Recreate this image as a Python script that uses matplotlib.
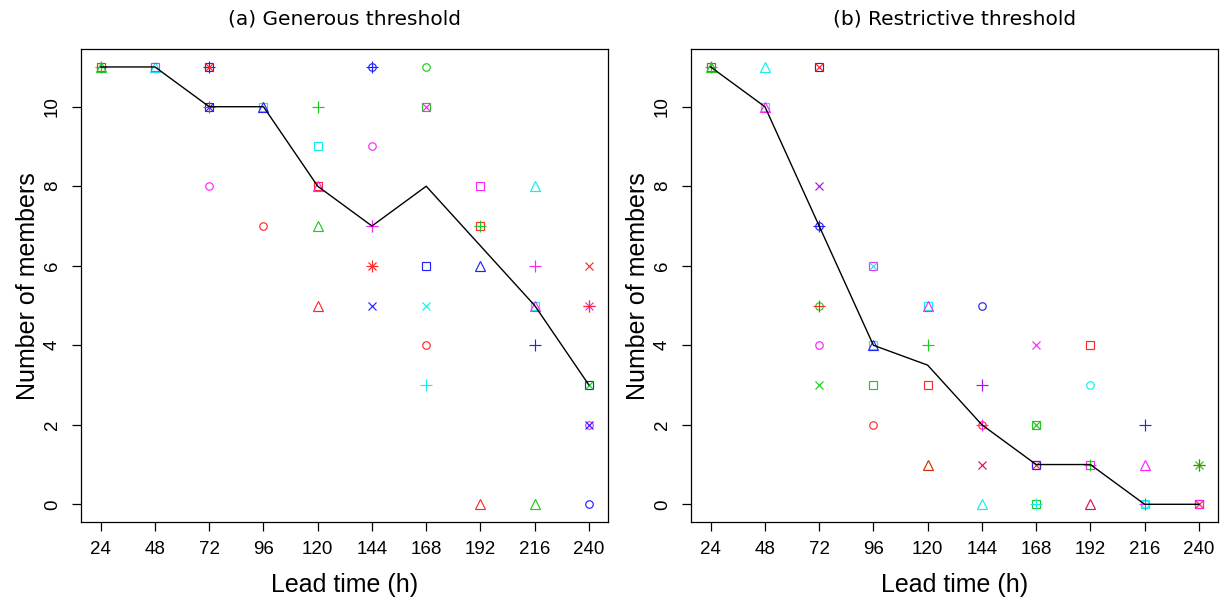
import matplotlib
matplotlib.use("Agg")
import matplotlib.pyplot as plt

# lead times (h) shared by both panels
lead_times = [24, 48, 72, 96, 120, 144, 168, 192, 216, 240]

# ensemble summary line
a_line = [11, 11, 10, 10, 8, 7, 8, 6.5, 5, 3]
b_line = [11, 10, 7, 4, 3.5, 2, 1, 1, 0, 0]

# (a) Generous threshold - individual members
a_lead = [24, 24, 24, 48, 48,
          72, 72, 72, 72, 72,
          96, 96, 96,
          120, 120, 120, 120, 120, 120,
          144, 144, 144, 144, 144, 144,
          168, 168, 168, 168, 168, 168, 168,
          192, 192, 192, 192, 192,
          216, 216, 216, 216, 216, 216,
          240, 240, 240, 240, 240, 240, 240, 240]
a_value = [11, 11, 11, 11, 11,
           11, 11, 10, 10, 8,
           10, 10, 7,
           10, 9, 8, 8, 7, 5,
           11, 9, 7, 7, 6, 5,
           11, 10, 10, 6, 5, 4, 3,
           8, 7, 7, 6, 0,
           8, 6, 5, 5, 4, 0,
           6, 5, 5, 3, 3, 2, 2, 0]
a_symbol = ["sq", "tr", "pl", "tr", "sq",
            "sp", "x", "sx", "pl", "ci",
            "sq", "tr", "ci",
            "pl", "sq", "sq", "tr", "tr", "tr",
            "cp", "ci", "pl", "pl", "as", "x",
            "ci", "sq", "x", "sq", "x", "ci", "pl",
            "sq", "sq", "pl", "tr", "tr",
            "tr", "pl", "sq", "tr", "pl", "tr",
            "x", "as", "pl", "sq", "x", "ci", "x", "ci"]
a_color = ["red", "green", "green", "cyan", "magenta",
           "blue", "red", "blue", "red", "magenta",
           "cyan", "blue", "red",
           "green", "cyan", "red", "magenta", "green", "red",
           "blue", "magenta", "cyan", "magenta", "red", "blue",
           "green", "green", "magenta", "blue", "cyan", "red", "cyan",
           "magenta", "red", "green", "blue", "red",
           "cyan", "magenta", "cyan", "magenta", "blue", "green",
           "red", "magenta", "red", "blue", "green", "magenta", "blue", "blue"]

# (b) Restrictive threshold - individual members
b_lead = [24, 24, 24, 48, 48, 48,
          72, 72, 72, 72, 72, 72, 72, 72,
          96, 96, 96, 96, 96, 96,
          120, 120, 120, 120, 120,
          144, 144, 144, 144, 144, 144,
          168, 168, 168, 168, 168, 168, 168,
          192, 192, 192, 192, 192,
          216, 216, 216, 216, 216,
          240, 240, 240, 240, 240]
b_value = [11, 11, 11, 11, 10, 10,
           11, 11, 8, 7, 5, 5, 4, 3,
           6, 6, 4, 4, 3, 2,
           5, 5, 4, 3, 1,
           5, 3, 2, 2, 1, 0,
           4, 2, 1, 1, 1, 0, 0,
           4, 3, 1, 1, 0,
           2, 1, 0, 0, 0,
           1, 1, 0, 0, 0]
b_symbol = ["sq", "tr", "pl", "tr", "sq", "tr",
            "sq", "x", "x", "cp", "ci", "pl", "ci", "x",
            "sq", "x", "sq", "tr", "sq", "ci",
            "sq", "tr", "pl", "sq", "tr",
            "ci", "pl", "ci", "pl", "x", "tr",
            "x", "sx", "sq", "sq", "x", "sq", "pl",
            "sq", "ci", "sq", "pl", "tr",
            "pl", "tr", "sq", "ci", "pl",
            "as", "pl", "sq", "sq", "x"]
b_color = ["red", "green", "green", "cyan", "cyan", "magenta",
           "blue", "red", "purple", "blue", "green", "red", "magenta", "green",
           "magenta", "cyan", "cyan", "blue", "green", "red",
           "cyan", "magenta", "green", "red", "brown",
           "blue", "purple", "red", "magenta", "crimson", "cyan",
           "magenta", "green", "magenta", "blue", "red", "green", "cyan",
           "red", "cyan", "magenta", "green", "crimson",
           "blue", "magenta", "cyan", "cyan", "magenta",
           "green", "red", "purple", "magenta", "red"]

palette = {"red": "#FF2A2A", "green": "#1DCC1D", "blue": "#2222FF",
           "cyan": "#11EEEE", "magenta": "#FF22FF", "purple": "#B010E8",
           "crimson": "#E0104A", "brown": "#C83200"}

# R style plotting symbols built from matplotlib markers
symbol_parts = {"sq": ["s"], "ci": ["o"], "tr": ["^"], "pl": ["+"], "x": ["x"],
                "as": ["+", "x"], "cp": ["o", "+"], "sx": ["s", "x"], "sp": ["s", "+"]}
marker_size = {"s": 5.8, "o": 5.4, "^": 7.0, "+": 8.0, "x": 5.4}

tick_font = "Liberation Sans"


def draw_panel(ax, title, line, lead, value, symbol, color):
    for xi, yi, si, ci in zip(lead, value, symbol, color):
        for m in symbol_parts[si]:
            ax.plot(xi, yi, linestyle="none", marker=m, ms=marker_size[m],
                    mfc="none", mec=palette[ci], mew=0.85, zorder=3)
    ax.plot(lead_times, line, color="black", lw=1.0, zorder=4)

    ax.set_xlim(24 - 0.04 * 216, 240 + 0.04 * 216)
    ax.set_ylim(-0.44, 11.44)
    ax.set_xticks(lead_times)
    ax.set_yticks([0, 2, 4, 6, 8, 10])
    ax.tick_params(axis="both", direction="out", length=6.5, width=0.9,
                   labelsize=13.5, pad=7)
    ax.tick_params(axis="y", labelrotation=90, pad=8)
    for lab in ax.get_xticklabels() + ax.get_yticklabels():
        lab.set_fontfamily(tick_font)
    for lab in ax.get_yticklabels():
        lab.set_verticalalignment("center")
    for sp in ax.spines.values():
        sp.set_linewidth(0.9)
    ax.set_xlabel("Lead time (h)", fontsize=18, family=tick_font, labelpad=11)
    ax.set_ylabel("Number of members", fontsize=18, family=tick_font, labelpad=3)
    ax.set_title(title, fontsize=14.5, family="DejaVu Sans", pad=18)


fig = plt.figure(figsize=(12.25, 6.01), dpi=100)
ax1 = fig.add_axes([0.0663, 0.1318, 0.4304, 0.7859])
ax2 = fig.add_axes([0.5642, 0.1318, 0.4304, 0.7859])

draw_panel(ax1, "(a) Generous threshold", a_line, a_lead, a_value, a_symbol, a_color)
draw_panel(ax2, "(b) Restrictive threshold", b_line, b_lead, b_value, b_symbol, b_color)

fig.savefig("out.png", dpi=100)
